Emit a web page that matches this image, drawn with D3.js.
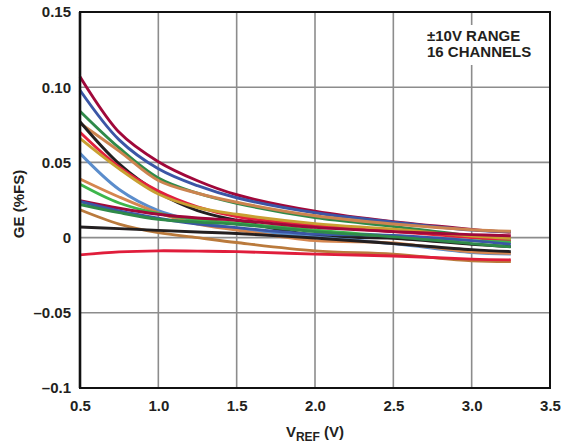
<!DOCTYPE html>
<html>
<head>
<meta charset="utf-8">
<script src="https://cdn.jsdelivr.net/npm/d3@7"></script>
<style>
html,body{margin:0;padding:0;background:#fff;}
svg{display:block;font-family:"Liberation Sans",Arial,sans-serif;font-weight:bold;}
</style>
</head>
<body>
<svg id="chart" width="561" height="445"></svg>
<script>
// ---- data ----
const vref = [0.5, 0.75, 1.0, 1.25, 1.5, 2.0, 2.5, 3.0, 3.25];
const xTicks = [0.5, 1.0, 1.5, 2.0, 2.5, 3.0, 3.5];
const yTicks = [-0.1, -0.05, 0, 0.05, 0.10, 0.15];
const yTickLabels = ["–0.1", "–0.05", "0", "0.05", "0.10", "0.15"];
const channelNames = ["CH1","CH2","CH3","CH4","CH5","CH6","CH7","CH8","CH9","CH10","CH11","CH12","CH13","CH14","CH15","CH16"];
const channelColors = ["#a0083a","#3b56a6","#2f8a49","#cc844f","#231f20","#e21f3d","#c9a032","#5b8dcc",
                       "#d5864f","#3db64b","#a0083a","#3b56a6","#2f8a49","#ba7a3c","#231f20","#e01d3b"];
const ch1  = [0.107, 0.070, 0.0505, 0.0378, 0.0285, 0.0175, 0.0105, 0.0055, 0.0035];
const ch2  = [0.098, 0.065, 0.0458, 0.0345, 0.0265, 0.0165, 0.0103, 0.005, 0.004];
const ch3  = [0.084, 0.0596, 0.0396, 0.0295, 0.0228, 0.0133, 0.0075, 0.0012, -0.001];
const ch4  = [0.076, 0.0575, 0.038, 0.0295, 0.0235, 0.0145, 0.009, 0.0052, 0.0042];
const ch5  = [0.077, 0.049, 0.030, 0.018, 0.0115, 0.0015, -0.0005, -0.0045, -0.006];
const ch6  = [0.070, 0.047, 0.031, 0.0205, 0.014, 0.008, 0.004, 0.0, -0.0025];
const ch7  = [0.066, 0.0458, 0.029, 0.020, 0.0155, 0.0093, 0.0056, 0.001, -0.0005];
const ch8  = [0.056, 0.032, 0.018, 0.011, 0.006, 0.0005, -0.004, -0.010, -0.011];
const ch9  = [0.039, 0.027, 0.0165, 0.009, 0.005, -0.002, -0.0035, -0.0095, -0.0105];
const ch10 = [0.0355, 0.023, 0.016, 0.012, 0.0095, 0.005, 0.001, -0.002, -0.003];
const ch11 = [0.0245, 0.0195, 0.0155, 0.013, 0.0115, 0.0068, 0.004, 0.002, 0.0012];
const ch12 = [0.024, 0.0177, 0.0129, 0.009, 0.0066, 0.0023, 0.0015, -0.002, -0.0045];
const ch13 = [0.022, 0.0166, 0.0122, 0.0103, 0.0089, 0.004, 0.0005, -0.004, -0.0062];
const ch14 = [0.0185, 0.009, 0.0033, 0.0, -0.0033, -0.0088, -0.011, -0.0155, -0.016];
const ch15 = [0.007, 0.006, 0.0048, 0.0037, 0.0027, -0.0003, -0.004, -0.008, -0.0093];
const ch16 = [-0.0115, -0.0095, -0.0088, -0.009, -0.0093, -0.011, -0.0122, -0.0143, -0.0148];
const channelValues = [ch1,ch2,ch3,ch4,ch5,ch6,ch7,ch8,ch9,ch10,ch11,ch12,ch13,ch14,ch15,ch16];
const noteLines = ["±10V RANGE", "16 CHANNELS"];

// ---- chart ----
const svg = d3.select("#chart");
const x = d3.scaleLinear().domain([0.5, 3.5]).range([80, 550]);
const y = d3.scaleLinear().domain([-0.1, 0.15]).range([388, 12]);

// grid
const grid = svg.append("g");
grid.selectAll("line.v").data(xTicks.slice(1, -1)).join("line")
  .attr("x1", d => x(d)).attr("x2", d => x(d))
  .attr("y1", y(0.15)).attr("y2", y(-0.1))
  .attr("stroke", "#8c8c8c").attr("stroke-width", 1.6);
grid.selectAll("line.h").data(yTicks.slice(1, -1)).join("line")
  .attr("x1", x(0.5)).attr("x2", x(3.5))
  .attr("y1", d => y(d)).attr("y2", d => y(d))
  .attr("stroke", "#8c8c8c").attr("stroke-width", 1.6);

// note box (white behind the text interrupts grid)
const note = svg.append("g");
note.append("rect").attr("x", 420).attr("y", 25).attr("width", 110).attr("height", 40).attr("fill", "#fff");
note.selectAll("text").data(noteLines).join("text")
  .attr("x", 427).attr("y", (d, i) => 41 + i * 16)
  .attr("font-size", 15).attr("fill", "#231f20")
  .text(d => d);

// lines
const line = d3.line().x((d, i) => x(vref[i])).y(d => y(d)).curve(d3.curveCatmullRom.alpha(0.5));
svg.append("g").selectAll("path").data(channelValues).join("path")
  .attr("d", d => line(d))
  .attr("fill", "none")
  .attr("stroke", (d, i) => channelColors[i])
  .attr("stroke-width", 2.9)
  .attr("stroke-linejoin", "round");

// frame
svg.append("rect").attr("x", x(0.5)).attr("y", y(0.15))
  .attr("width", x(3.5) - x(0.5)).attr("height", y(-0.1) - y(0.15))
  .attr("fill", "none").attr("stroke", "#111").attr("stroke-width", 2);
svg.append("line").attr("x1", x(0.5)).attr("x2", x(0.5)).attr("y1", y(0.15)).attr("y2", y(-0.1))
  .attr("stroke", "#111").attr("stroke-width", 2.6);

// axes labels
const yAxis = d3.axisLeft(y).tickValues(yTicks).tickFormat((d, i) => yTickLabels[i]).tickSize(0).tickPadding(9);
const ya = svg.append("g").attr("transform", `translate(${x(0.5)},0)`).call(yAxis);
ya.select(".domain").remove();
ya.selectAll("text").attr("font-size", 15).attr("font-family", "'Liberation Sans',Arial,sans-serif").attr("font-weight", "bold").attr("fill", "#231f20");

const xAxis = d3.axisBottom(x).tickValues(xTicks).tickFormat(d3.format(".1f")).tickSize(0).tickPadding(12);
const xa = svg.append("g").attr("transform", `translate(0,${y(-0.1)})`).call(xAxis);
xa.select(".domain").remove();
xa.selectAll("text").attr("font-size", 15).attr("font-family", "'Liberation Sans',Arial,sans-serif").attr("font-weight", "bold").attr("fill", "#231f20");

// axis titles
const xt = svg.append("text").attr("x", 315).attr("y", 437).attr("text-anchor", "middle")
  .attr("font-size", 15).attr("fill", "#231f20");
xt.append("tspan").text("V");
xt.append("tspan").attr("font-size", 12).attr("dy", 4).text("REF");
xt.append("tspan").attr("dy", -4).text(" (V)");

svg.append("text").attr("transform", "translate(24,204) rotate(-90)")
  .attr("text-anchor", "middle").attr("font-size", 15).attr("fill", "#231f20")
  .text("GE (%FS)");
</script>
</body>
</html>
